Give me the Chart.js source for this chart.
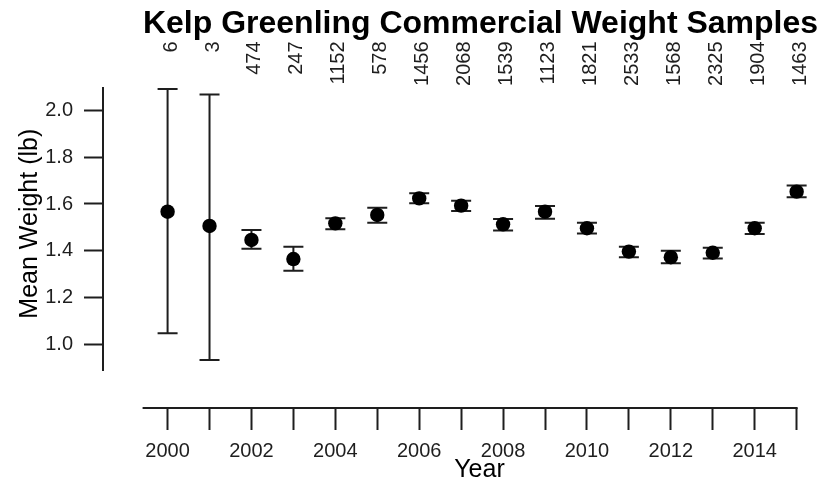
<!DOCTYPE html>
<html><head><meta charset="utf-8">
<script src="https://cdn.jsdelivr.net/npm/chart.js@4/dist/chart.umd.min.js"></script>
<style>html,body{margin:0;padding:0;background:#fff;overflow:hidden}#wrap{width:829px;height:486px}</style>
</head><body><div id="wrap"><canvas id="c" width="829" height="486"></canvas></div>
<script>
// ---- data ----
const years = [2000,2001,2002,2003,2004,2005,2006,2007,2008,2009,2010,2011,2012,2013,2014,2015];
const meanWeight = [1.567,1.506,1.446,1.364,1.517,1.553,1.624,1.593,1.513,1.567,1.496,1.396,1.372,1.391,1.496,1.653];
const lowerBound = [1.046,0.931,1.408,1.314,1.492,1.520,1.603,1.570,1.486,1.537,1.474,1.372,1.346,1.366,1.471,1.629];
const upperBound = [2.093,2.069,1.489,1.417,1.539,1.584,1.646,1.614,1.536,1.591,1.520,1.417,1.400,1.413,1.520,1.679];
const sampleCounts = ['6','3','474','247','1152','578','1456','2068','1539','1123','1821','2533','1568','2325','1904','1463'];
const yTickValues = [1.0,1.2,1.4,1.6,1.8,2.0];
const xLabelYears = [2000,2002,2004,2006,2008,2010,2012,2014];
const titleText = 'Kelp Greenling Commercial Weight Samples';
const xTitleText = 'Year';
const yTitleText = 'Mean Weight (lb)';

const INK = '#1e1e1e';
const FONT = '"Liberation Sans", Arial, sans-serif';

const decorPlugin = {
  id: 'decor',
  beforeDatasetsDraw(chart) {
    const ctx = chart.ctx, xs = chart.scales.x, ys = chart.scales.y;
    ctx.save();
    ctx.strokeStyle = INK; ctx.lineWidth = 2; ctx.lineCap = 'butt';
    years.forEach((yr, i) => {
      const x = xs.getPixelForValue(yr);
      const y1 = ys.getPixelForValue(lowerBound[i]);
      const y2 = ys.getPixelForValue(upperBound[i]);
      ctx.beginPath();
      ctx.moveTo(x, y1); ctx.lineTo(x, y2);
      ctx.moveTo(x - 10, y1); ctx.lineTo(x + 10, y1);
      ctx.moveTo(x - 10, y2); ctx.lineTo(x + 10, y2);
      ctx.stroke();
    });
    ctx.restore();
  },
  afterDraw(chart) {
    const ctx = chart.ctx, xs = chart.scales.x, ys = chart.scales.y;
    ctx.save();
    // x axis line
    const axisY = ys.getPixelForValue(chart.options.scales.x.position.y);
    ctx.strokeStyle = INK; ctx.lineWidth = 2;
    ctx.beginPath();
    ctx.moveTo(xs.getPixelForValue(1999.404), axisY);
    ctx.lineTo(xs.getPixelForValue(years[years.length - 1]) + 1, axisY);
    ctx.stroke();
    // sample counts (rotated)
    ctx.fillStyle = INK;
    ctx.font = '20px ' + FONT;
    years.forEach((yr, i) => {
      const x = xs.getPixelForValue(yr);
      ctx.save();
      ctx.translate(x + 9, 41.5);
      ctx.rotate(-Math.PI / 2);
      ctx.textAlign = 'right'; ctx.textBaseline = 'alphabetic';
      ctx.fillText(sampleCounts[i], 0, 0);
      ctx.restore();
    });
    // title
    ctx.fillStyle = '#000';
    ctx.font = 'bold 32px ' + FONT;
    ctx.textAlign = 'center'; ctx.textBaseline = 'alphabetic';
    ctx.fillText(titleText, 480.5, 32.5);
    // x title
    ctx.font = '25px ' + FONT;
    ctx.fillText(xTitleText, 479.5, 477);
    // y title
    ctx.save();
    ctx.translate(37, 223.7);
    ctx.rotate(-Math.PI / 2);
    ctx.textAlign = 'center'; ctx.textBaseline = 'alphabetic';
    ctx.fillText(yTitleText, 0, 0);
    ctx.restore();
    ctx.restore();
  }
};

new Chart(document.getElementById('c'), {
  type: 'scatter',
  data: {
    datasets: [{
      data: years.map((x, i) => ({ x: x, y: meanWeight[i] })),
      pointRadius: 7.2,
      pointHoverRadius: 7.2,
      pointBackgroundColor: '#000',
      pointBorderWidth: 0,
      showLine: false,
      clip: false
    }]
  },
  options: {
    responsive: false,
    animation: false,
    devicePixelRatio: 1,
    layout: { padding: { left: 43, top: 88, right: 6.6, bottom: 116 } },
    plugins: { legend: { display: false }, tooltip: { enabled: false }, title: { display: false } },
    events: [],
    scales: {
      x: {
        type: 'linear',
        position: { y: 0.7257 },
        min: 1998.46, max: 2015.6,
        afterBuildTicks: s => { s.ticks = years.map(v => ({ value: v })); },
        grid: { drawOnChartArea: false, drawTicks: true, tickLength: 22, tickWidth: 2, tickColor: INK },
        border: { display: false },
        ticks: {
          autoSkip: false, maxRotation: 0, minRotation: 0, padding: 9,
          color: INK, font: { size: 20, family: FONT },
          callback: v => xLabelYears.includes(v) ? String(v) : ''
        }
      },
      y: {
        type: 'linear',
        position: 'left',
        min: 0.8886, max: 2.0971,
        afterBuildTicks: s => { s.ticks = yTickValues.map(v => ({ value: v })); },
        afterFit: s => { s.width = 60; },
        grid: { drawOnChartArea: false, drawTicks: true, tickLength: 19, tickWidth: 2, tickColor: INK },
        border: { display: true, color: INK, width: 2 },
        ticks: {
          padding: 11, color: INK, font: { size: 20, family: FONT },
          callback: v => v.toFixed(1)
        }
      }
    }
  },
  plugins: [decorPlugin]
});
</script>
</body></html>
